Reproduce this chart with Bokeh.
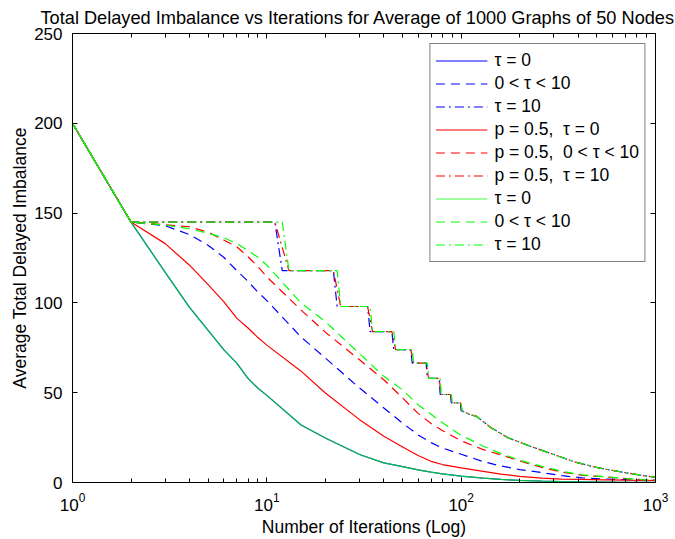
from bokeh.plotting import figure
from bokeh.models import (Range1d, FixedTicker, LinearAxis, LogAxis,
                          Legend, LegendItem, CustomJSTickFormatter)
from bokeh.embed import file_html
from bokeh.resources import INLINE

FONT = "Liberation Sans"

# ---- data ----
iters = [1, 2, 3, 4, 5, 6, 7, 8, 9, 10, 15, 20, 30, 40, 50, 60, 70, 80, 100,
         130, 160, 200, 260, 330, 420, 540, 700, 850, 1000]
tau0 = [200, 145, 117, 97.5, 84.5, 74, 66.5, 58, 52.5, 48.5, 32, 24.8, 15.6,
        10.9, 8.8, 7, 5.8, 4.8, 3.6, 2.4, 1.7, 1.2, 0.8, 0.5, 0.35, 0.25,
        0.15, 0.1, 0.08]
p05_tau0 = [200, 145, 133, 121, 110, 100.7, 91.5, 86, 80.7, 76.5, 62, 49.8,
            35, 25.7, 19.8, 15, 11.8, 10, 8.1, 6.2, 4.7, 3.4, 2.4, 1.9, 1.7,
            1.5, 1.3, 1.2, 1.1]
mid_blue = [200, 145, 143, 138, 132, 125.4, 118, 112, 106, 101.3, 81, 69.3,
            52.6, 41.5, 33, 26.5, 22.2, 19.2, 15.7, 11.6, 9.2, 7.2, 5.5, 3.8,
            2.6, 2.0, 1.6, 1.3, 1.2]
mid_red = [200, 145, 143.5, 142.4, 139.3, 135, 131.3, 125.7, 120.2, 114.5,
           96, 83.7, 68.3, 57.2, 47, 38.5, 32.8, 29, 23.2, 18.3, 15.4, 12,
           8.4, 5.8, 4.0, 3.2, 2.2, 1.6, 1.3]
mid_green = [200, 145, 143.3, 141.3, 138.7, 136.3, 133.1, 129.1, 125.4, 121,
             100, 89.6, 71.7, 59.1, 51.5, 43.3, 38, 33.3, 26.3, 20.2, 16.1,
             12.4, 9, 6.2, 4.3, 3.3, 2.2, 1.6, 1.3]

# tau = 10: staircase levels (one step every 11 iterations), then tail
step_iters = [11, 22, 33, 44, 55, 66, 77, 88, 99]
step_levels = [145, 118, 98, 84, 74, 66.5, 58, 49, 44.3, 40]
tail_iters = [110, 120, 143, 175, 227, 295, 388, 510, 680, 905, 1000]
tail_vals = [38, 36.8, 30.4, 24.8, 20.2, 15.8, 11.3, 8.1, 5.7, 3.5, 3.0]

NB = "\u00a0"
labels = ["\u03c4 = 0", "0 < \u03c4 < 10", "\u03c4 = 10",
          "p = 0.5," + NB + " \u03c4 = 0", "p = 0.5," + NB + " 0 < \u03c4 < 10",
          "p = 0.5," + NB + " \u03c4 = 10",
          "\u03c4 = 0", "0 < \u03c4 < 10", "\u03c4 = 10"]
title_text = "Total Delayed Imbalance vs Iterations for Average of 1000 Graphs of 50 Nodes"

x_major = [1, 10, 100, 1000]
y_major = [0, 50, 100, 150, 200, 250]


def stair(lag, ramp):
    xs = [iters[0], iters[1]]
    ys = [tau0[0], tau0[1]]
    for k, s in enumerate(step_iters):
        xs += [s + lag, s + lag + ramp]
        ys += [step_levels[k], step_levels[k + 1]]
    xs += tail_iters
    ys += tail_vals
    return xs, ys


BLUE, RED, GREEN = "#0000ff", "#ff0000", "#00ff00"
DASH = "9 6"
DASHDOT = "9 4 2 4"
LW = 1.2

W, H = 675, 539
p = figure(width=W, height=H, x_axis_type="log",
           x_range=Range1d(1, 1000), y_range=Range1d(0, 250),
           output_backend="svg", toolbar_location=None,
           min_border_left=72, min_border_right=20,
           min_border_top=33, min_border_bottom=56,
           title=title_text)
p.title.align = "left"
p.title.offset = -32
p.title.text_font = FONT
p.title.text_font_size = "18.2px"
p.title.text_font_style = "normal"
p.title.text_color = "black"
p.title.standoff = 11
p.xgrid.visible = False
p.ygrid.visible = False
p.outline_line_color = "black"
p.background_fill_color = "white"

minor_x = [m * d for d in (1, 10, 100) for m in range(2, 10)]
xticker = FixedTicker(ticks=x_major, minor_ticks=minor_x)
yticker = FixedTicker(ticks=y_major)


def style(ax, labels_on=True):
    ax.axis_line_color = "black"
    ax.axis_line_width = 1
    ax.major_tick_in = 5
    ax.major_tick_out = 0
    ax.minor_tick_in = 4
    ax.minor_tick_out = 0
    ax.major_tick_line_color = "black"
    ax.minor_tick_line_color = "black"
    ax.major_label_text_font = FONT
    ax.major_label_text_font_size = "17px"
    ax.major_label_text_color = "black"
    ax.axis_label_text_font = FONT
    ax.axis_label_text_font_size = "17.5px"
    ax.axis_label_text_font_style = "normal"
    ax.axis_label_text_color = "black"
    if not labels_on:
        ax.major_label_text_font_size = "0px"
        ax.major_label_standoff = 0
        ax.formatter = CustomJSTickFormatter(code="return ''")


xa = p.xaxis[0]
xa.ticker = xticker
style(xa)
xa.axis_label = "Number of Iterations (Log)"
xa.major_label_standoff = 10
xa.axis_label_standoff = 3

ya = p.yaxis[0]
ya.ticker = yticker
style(ya)
ya.minor_tick_line_color = None
ya.axis_label = "Average Total Delayed Imbalance"
ya.major_label_standoff = 10
ya.axis_label_standoff = 1

top = LogAxis(ticker=xticker)
style(top, labels_on=False)
p.add_layout(top, "above")
right = LinearAxis(ticker=yticker)
style(right, labels_on=False)
right.minor_tick_line_color = None
p.add_layout(right, "right")

rs = []
# blue
rs.append(p.line(iters, tau0, line_color=BLUE, line_width=LW))
rs.append(p.line(iters, mid_blue, line_color=BLUE, line_width=LW, line_dash=DASH))
bx, by = stair(0, 1)
rs.append(p.line(bx, by, line_color=BLUE, line_width=LW, line_dash=DASHDOT))
# red
rs.append(p.line(iters, p05_tau0, line_color=RED, line_width=LW))
rs.append(p.line(iters, mid_red, line_color=RED, line_width=LW, line_dash=DASH))
rx, ry = stair(0, 2)
rs.append(p.line(rx, ry, line_color=RED, line_width=LW, line_dash=DASHDOT))
# green (drawn over the identical blue tau=0 curve)
rs.append(p.line(iters, tau0, line_color=GREEN, line_width=LW, line_alpha=0.75))
rs.append(p.line(iters, mid_green, line_color=GREEN, line_width=LW, line_dash=DASH))
gx, gy = stair(1, 1)
rs.append(p.line(gx, gy, line_color=GREEN, line_width=LW, line_dash=DASHDOT))

legend = Legend(items=[LegendItem(label=lab, renderers=[r]) for lab, r in zip(labels, rs)],
                location="top_right")
legend.label_text_font = FONT
legend.label_text_font_size = "17.5px"
legend.label_text_color = "black"
legend.glyph_width = 52
legend.glyph_height = 23
legend.label_height = 23
legend.spacing = 0
legend.padding = 5
legend.margin = 10
legend.label_standoff = 7
legend.border_line_color = "black"
legend.border_line_width = 1
legend.background_fill_color = "white"
legend.background_fill_alpha = 1
p.add_layout(legend)

open("out.html", "w").write(file_html(p, INLINE))
